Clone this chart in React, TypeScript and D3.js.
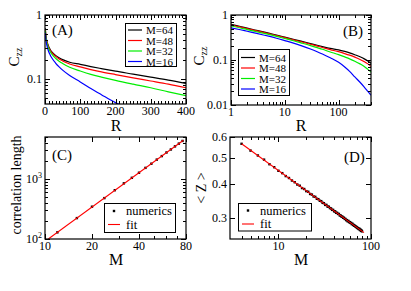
import { useRef, useEffect } from 'react';
import * as d3 from 'd3';

// distance R at which C_zz was sampled (panels A and B)
const rValues = [1, 1.5, 2, 3, 4, 5, 7, 10, 15, 20, 30, 40, 50, 70, 100, 130, 160, 200, 250, 300, 350, 400];
const czzM64 = [0.62, 0.555, 0.51, 0.455, 0.42, 0.395, 0.36, 0.322, 0.285, 0.262, 0.232, 0.213, 0.199, 0.181, 0.168, 0.155, 0.144, 0.131, 0.118, 0.106, 0.095, 0.084];
const czzM48 = [0.6, 0.54, 0.497, 0.443, 0.41, 0.385, 0.35, 0.313, 0.277, 0.254, 0.224, 0.204, 0.19, 0.17, 0.153, 0.139, 0.128, 0.116, 0.103, 0.092, 0.082, 0.072];
const czzM32 = [0.57, 0.515, 0.475, 0.425, 0.393, 0.37, 0.336, 0.3, 0.264, 0.24, 0.209, 0.188, 0.173, 0.151, 0.132, 0.117, 0.106, 0.094, 0.082, 0.072, 0.062, 0.054];
const czzM16 = [0.52, 0.47, 0.435, 0.39, 0.36, 0.338, 0.305, 0.27, 0.234, 0.209, 0.176, 0.153, 0.136, 0.112, 0.089, 0.07, 0.056, 0.042, 0.032, 0.025, 0.02, 0.0165];
const seriesLabels = ['M=64', 'M=48', 'M=32', 'M=16'];

// panel C: correlation length vs M
const corrM = [12, 16, 20, 24, 28, 32, 36, 40, 44, 48, 52, 56, 60, 64, 68, 72, 76];
const corrLength = [129, 223, 345, 480, 650, 845, 1045, 1270, 1530, 1795, 2100, 2405, 2760, 3100, 3490, 3880, 4300];
const corrFitM = [10.5, 77];
const corrFitL = [100, 4420];

// panel D: <Z> vs M
const zM = [4, 5, 6, 7, 8, 9, 10, 11, 12, 13, 14, 15, 16, 17, 18, 19, 20, 21, 22, 23, 24, 25, 26, 27, 28, 29, 30,
  31, 32, 33, 34, 35, 36, 37, 38, 39, 40, 41, 42, 43, 44, 45, 46, 47, 48, 49, 50, 51, 52, 53, 54, 55, 56, 57, 58, 59, 60,
  61, 62, 63, 64, 65, 66, 67, 68, 69, 70, 71, 72, 73, 74, 75, 76, 77, 78, 79, 80];
const zValues = [0.566, 0.534, 0.512, 0.494, 0.475, 0.463, 0.449, 0.44, 0.429, 0.422, 0.413, 0.407, 0.399, 0.395, 0.387,
  0.384, 0.377, 0.375, 0.368, 0.366, 0.36, 0.359, 0.353, 0.352, 0.347, 0.346, 0.341, 0.34, 0.335, 0.335, 0.33, 0.33,
  0.326, 0.325, 0.321, 0.321, 0.317, 0.317, 0.313, 0.313, 0.31, 0.31, 0.306, 0.306, 0.303, 0.303, 0.3, 0.3, 0.297,
  0.297, 0.294, 0.294, 0.291, 0.292, 0.289, 0.289, 0.287, 0.287, 0.284, 0.285, 0.282, 0.282, 0.28, 0.28, 0.278, 0.278,
  0.276, 0.276, 0.274, 0.274, 0.272, 0.273, 0.27, 0.271, 0.268, 0.269, 0.267];
const zFitM = [4, 84];
const zFitZ = [0.566, 0.264];

const colors = ['#000000', '#ff0000', '#00ee00', '#0000ff'];
const font = "'Liberation Serif', 'DejaVu Serif', serif";

type Sel = d3.Selection<any, unknown, null, undefined>;

function frame(svg: Sel, x: any, y: any, o: {
  xMajor: number[]; xMinor: number[]; yMajor: number[]; yMinor: number[];
  xFmt: (v: number) => string; yFmt: ((v: number) => string) | null; sup?: boolean;
}) {
  const [x0, x1] = x.range();
  const [y0, y1] = y.range();
  const g = svg.append('g').attr('stroke', '#000').attr('stroke-width', 1);
  const tk = (vals: number[], len: number) => {
    vals.forEach((v) => {
      const px = Math.round(x(v)) + 0.5;
      g.append('line').attr('x1', px).attr('x2', px).attr('y1', y0).attr('y2', y0 - len);
      g.append('line').attr('x1', px).attr('x2', px).attr('y1', y1).attr('y2', y1 + len);
    });
  };
  const tkY = (vals: number[], len: number) => {
    vals.forEach((v) => {
      const py = Math.round(y(v)) + 0.5;
      g.append('line').attr('x1', x0).attr('x2', x0 + len).attr('y1', py).attr('y2', py);
      g.append('line').attr('x1', x1).attr('x2', x1 - len).attr('y1', py).attr('y2', py);
    });
  };
  tk(o.xMajor, 5);
  tk(o.xMinor, 3);
  tkY(o.yMajor, 5);
  tkY(o.yMinor, 3);
  g.append('rect').attr('x', x0).attr('y', y1).attr('width', x1 - x0).attr('height', y0 - y1)
    .attr('fill', 'none').attr('stroke-width', 1.2);

  o.xMajor.forEach((v) => {
    svg.append('text').attr('x', x(v)).attr('y', y0 + 11).attr('text-anchor', 'middle')
      .attr('font-size', 12).text(o.xFmt(v));
  });
  o.yMajor.forEach((v) => {
    const t = svg.append('text').attr('x', x0 - 3).attr('y', y(v) + 4).attr('text-anchor', 'end')
      .attr('font-size', 12);
    if (o.sup) {
      t.append('tspan').text('10');
      t.append('tspan').attr('dy', -5).attr('font-size', 8).text(String(Math.round(Math.log10(v))));
    } else if (o.yFmt) {
      t.text(o.yFmt(v));
    }
  });
}

function clip(svg: Sel, id: string, x: any, y: any) {
  const [x0, x1] = x.range();
  const [y0, y1] = y.range();
  svg.append('clipPath').attr('id', id).append('rect')
    .attr('x', x0).attr('y', y1).attr('width', x1 - x0).attr('height', y0 - y1);
}

export default function App() {
  const svgRef = useRef<SVGSVGElement>(null);

  useEffect(() => {
    if (!svgRef.current) return;
    const svg = d3.select(svgRef.current) as unknown as Sel;
    svg.selectAll('*').remove();
    svg.attr('font-family', font);

    const series = [czzM64, czzM48, czzM32, czzM16];
    const logMinor = (decades: number[], upTo = 9) =>
      decades.flatMap((d) => d3.range(2, upTo + 1).map((k) => +(k * d).toPrecision(3)));

    // ---------- Panel A ----------
    const xA = d3.scaleLinear().domain([0, 400]).range([45, 186]);
    const yA = d3.scaleLog().domain([0.04, 1]).range([104, 15]);
    clip(svg, 'clipA', xA, yA);
    const lineA = d3.line<number>()
      .x((_, i) => xA(rValues[i]))
      .y((d) => yA(d))
      .curve(d3.curveMonotoneX);
    series.forEach((s, k) => {
      svg.append('path').datum(s).attr('d', lineA).attr('fill', 'none')
        .attr('stroke', colors[k]).attr('stroke-width', 1.2).attr('clip-path', 'url(#clipA)');
    });
    frame(svg, xA, yA, {
      xMajor: [0, 100, 200, 300, 400],
      xMinor: d3.range(10, 400, 10).filter((v) => v % 100 !== 0),
      yMajor: [0.1, 1],
      yMinor: [0.05, 0.06, 0.07, 0.08, 0.09, ...logMinor([0.1])],
      xFmt: (v) => String(v),
      yFmt: (v) => String(v),
    });

    // ---------- Panel B ----------
    const xB = d3.scaleLog().domain([1, 400]).range([231, 371]);
    const yB = d3.scaleLog().domain([0.01, 1]).range([105, 15]);
    clip(svg, 'clipB', xB, yB);
    const lineB = d3.line<number>()
      .x((_, i) => xB(rValues[i]))
      .y((d) => yB(d))
      .curve(d3.curveMonotoneX);
    series.forEach((s, k) => {
      svg.append('path').datum(s).attr('d', lineB).attr('fill', 'none')
        .attr('stroke', colors[k]).attr('stroke-width', 1.2).attr('clip-path', 'url(#clipB)');
    });
    frame(svg, xB, yB, {
      xMajor: [1, 10, 100],
      xMinor: [...logMinor([1, 10]), 200, 300, 400],
      yMajor: [0.01, 0.1, 1],
      yMinor: logMinor([0.01, 0.1]),
      xFmt: (v) => String(v),
      yFmt: (v) => String(v),
    });

    // ---------- Panel C ----------
    const xC = d3.scaleLog().domain([10, 80]).range([45, 186]);
    const yC = d3.scaleLog().domain([100, 5000]).range([239, 137]);
    clip(svg, 'clipC', xC, yC);
    corrM.forEach((m, i) => {
      svg.append('rect').attr('x', xC(m) - 1.2).attr('y', yC(corrLength[i]) - 1.2)
        .attr('width', 2.4).attr('height', 2.4).attr('fill', '#000');
    });
    svg.append('path')
      .datum(corrFitM.map((m, i) => [xC(m), yC(corrFitL[i])] as [number, number]))
      .attr('d', d3.line()).attr('fill', 'none').attr('stroke', '#ff0000').attr('stroke-width', 1.1)
      .attr('clip-path', 'url(#clipC)');
    frame(svg, xC, yC, {
      xMajor: [10, 20, 40, 80],
      xMinor: [30, 50, 60, 70],
      yMajor: [100, 1000],
      yMinor: [...logMinor([100]), 2000, 3000, 4000, 5000],
      xFmt: (v) => String(v),
      yFmt: null,
      sup: true,
    });

    // ---------- Panel D ----------
    const xD = d3.scaleLog().domain([3, 100]).range([230, 371]);
    const yD = d3.scaleLog().domain([0.25, 0.6]).range([239, 137]);
    clip(svg, 'clipD', xD, yD);
    zM.forEach((m, i) => {
      svg.append('rect').attr('x', xD(m) - 1.2).attr('y', yD(zValues[i]) - 1.2)
        .attr('width', 2.4).attr('height', 2.4).attr('fill', '#000');
    });
    svg.append('path')
      .datum(zFitM.map((m, i) => [xD(m), yD(zFitZ[i])] as [number, number]))
      .attr('d', d3.line()).attr('fill', 'none').attr('stroke', '#ff0000').attr('stroke-width', 1.1)
      .attr('clip-path', 'url(#clipD)');
    frame(svg, xD, yD, {
      xMajor: [10, 100],
      xMinor: [4, 5, 6, 7, 8, 9, ...logMinor([10])],
      yMajor: [0.3, 0.4, 0.5, 0.6],
      yMinor: [],
      xFmt: (v) => String(v),
      yFmt: (v) => String(v),
    });

    // ---------- Legends ----------
    const curveLegend = (bx: number, by: number, bw: number, bh: number, rows: number[], lx: number, tx: number) => {
      svg.append('rect').attr('x', bx).attr('y', by).attr('width', bw).attr('height', bh)
        .attr('fill', '#fff').attr('stroke', '#000').attr('stroke-width', 1);
      seriesLabels.forEach((lab, k) => {
        svg.append('line').attr('x1', lx).attr('x2', lx + 14).attr('y1', rows[k]).attr('y2', rows[k])
          .attr('stroke', colors[k]).attr('stroke-width', 1.2);
        svg.append('text').attr('x', tx).attr('y', rows[k] + 4).attr('font-size', 11).text(lab);
      });
    };
    curveLegend(125.5, 23.5, 51, 43, [30, 40.5, 51, 61.5], 128, 146);
    curveLegend(238.5, 49.5, 51, 46, [57.5, 68, 78.5, 89], 241, 259);

    const fitLegend = (bx: number, by: number, bw: number, bh: number, r1: number, r2: number, lx: number, tx: number) => {
      svg.append('rect').attr('x', bx).attr('y', by).attr('width', bw).attr('height', bh)
        .attr('fill', '#fff').attr('stroke', '#000').attr('stroke-width', 1);
      svg.append('rect').attr('x', lx + 6 - 1.2).attr('y', r1 - 1.2).attr('width', 2.4).attr('height', 2.4)
        .attr('fill', '#000');
      svg.append('text').attr('x', tx).attr('y', r1 + 4).attr('font-size', 12.5).text('numerics');
      svg.append('line').attr('x1', lx).attr('x2', lx + 12).attr('y1', r2).attr('y2', r2)
        .attr('stroke', '#ff0000').attr('stroke-width', 1.1);
      svg.append('text').attr('x', tx).attr('y', r2 + 4).attr('font-size', 12.5).text('fit');
    };
    fitLegend(104.5, 203.5, 71, 29, 211, 224.5, 108, 126);
    fitLegend(238.5, 203.5, 73, 27.5, 210.5, 224, 242, 260);

    // ---------- Panel letters ----------
    const letter = (x: number, y: number, s: string) =>
      svg.append('text').attr('x', x).attr('y', y).attr('font-size', 15).text(s);
    letter(52, 35, '(A)');
    letter(343, 36, '(B)');
    letter(52, 160, '(C)');
    letter(344, 162, '(D)');

    // ---------- Axis titles ----------
    const title = (x: number, y: number, s: string) =>
      svg.append('text').attr('x', x).attr('y', y).attr('text-anchor', 'middle').attr('font-size', 16).text(s);
    title(116, 131, 'R');
    title(301, 131, 'R');
    title(116, 265, 'M');
    title(301, 265, 'M');

    const czz = (x: number, y: number) => {
      const t = svg.append('text').attr('transform', `translate(${x},${y}) rotate(-90)`)
        .attr('text-anchor', 'middle').attr('font-size', 15);
      t.append('tspan').text('C');
      t.append('tspan').attr('dy', 3).attr('font-size', 10).text('zz');
    };
    czz(19, 57);
    czz(204, 56);

    svg.append('text').attr('transform', 'translate(21,185) rotate(-90)')
      .attr('text-anchor', 'middle').attr('font-size', 14).text('correlation length');
    svg.append('text').attr('transform', 'translate(206,188) rotate(-90)')
      .attr('text-anchor', 'middle').attr('font-size', 14).text('< Z >');
  }, []);

  return (
    <svg
      ref={svgRef}
      width={411}
      height={291}
      style={{ position: 'absolute', left: 0, top: 0, background: '#fff' }}
    />
  );
}
